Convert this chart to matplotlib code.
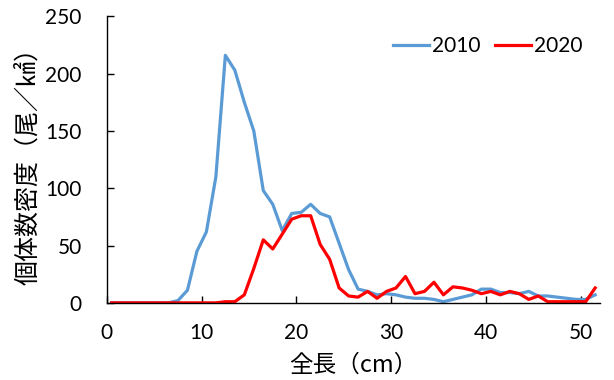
import numpy as np
import matplotlib
matplotlib.use('Agg')
from matplotlib import pyplot as plt

# 全長階級（1cm刻みの中央値）
length_cm = np.arange(0.5, 52, 1.0)

# 個体数密度（尾／㎢）
density_2010 = [0, 0, 0, 0, 0, 0, 0, 2, 11, 45,
                62, 110, 216, 203, 175, 150, 98, 86, 63, 78,
                79, 86, 78, 75, 52, 29, 12, 10, 7, 8,
                7, 5, 4, 4, 3, 1, 3, 5, 7, 12,
                12, 9, 9, 8, 10, 6, 6, 5, 4, 3,
                3, 7]
density_2020 = [0, 0, 0, 0, 0, 0, 0, 0, 0, 0,
                0, 0, 1, 1, 7, 30, 55, 47, 60, 73,
                76, 76, 51, 38, 13, 6, 5, 10, 4, 10,
                13, 23, 8, 10, 18, 7, 14, 13, 11, 8,
                10, 7, 10, 8, 3, 6, 1, 1, 1, 1,
                1, 13]

x_ticks = [0, 10, 20, 30, 40, 50]
y_ticks = [0, 50, 100, 150, 200, 250]

plt.rcParams['font.family'] = ['Lato', 'Noto Sans CJK JP', 'DejaVu Sans']

fig = plt.figure(figsize=(6.14, 3.8), dpi=100)
ax = fig.add_axes([0.174, 0.203, 0.803, 0.754])

ax.plot(length_cm, density_2010, color='#5B9BD5', lw=2.3, label='2010')
ax.plot(length_cm, density_2020, color='#FF0000', lw=2.3, label='2020')

ax.set_xlim(0, 52)
ax.set_ylim(0, 250)
ax.set_xticks(x_ticks)
ax.set_yticks(y_ticks)
ax.tick_params(direction='in', length=5, width=1, labelsize=15, colors='black')
ax.tick_params(axis='x', pad=14.5)
ax.tick_params(axis='y', pad=18)

for side in ['top', 'right']:
    ax.spines[side].set_visible(False)
for side in ['left', 'bottom']:
    ax.spines[side].set_color('black')
    ax.spines[side].set_linewidth(1)

cjk = ['Noto Sans CJK JP', 'DejaVu Sans']
ax.set_xlabel('全長（cm）', fontsize=17, family=cjk, labelpad=8)
ax.set_ylabel('個体数密度（尾／㎢）', fontsize=18, family=cjk, labelpad=3)

ax.legend(loc='center right', bbox_to_anchor=(0.964, 0.897), ncol=2, frameon=False,
          fontsize=15, handlelength=1.7, handletextpad=0.15, columnspacing=0.7,
          borderaxespad=0, borderpad=0)

fig.savefig('out.png', dpi=100)
